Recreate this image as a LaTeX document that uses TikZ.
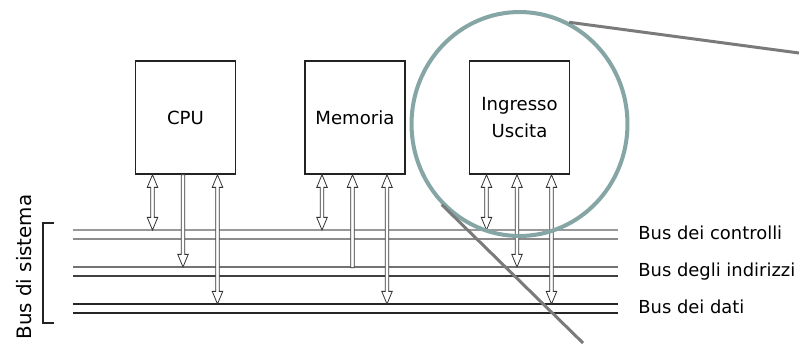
\documentclass[tikz,border=0pt]{standalone}
\usepackage{fontspec}
\setmainfont{DejaVu Sans}
\usepackage{tikz}
\usetikzlibrary{arrows.meta,calc,positioning,shapes.geometric}
\definecolor{lensteal}{HTML}{86A6A6}
\definecolor{zoomgray}{HTML}{7A7A7A}
\definecolor{boxline}{HTML}{222222}
% hollow bus arrow: #1 top, #2 bottom, #3/#4 = head at top/bottom (1 or 0)
\newcommand\busarrow[4]{%
  \pgfmathsetmacro\tw{1.0+2.0*#3}\pgfmathsetmacro\tl{7.2*#3}%
  \pgfmathsetmacro\bw{1.0+2.0*#4}\pgfmathsetmacro\bl{7.2*#4}%
  \filldraw[arr] let \p1=(#1), \p2=(#2) in
    (\x1,\y1) -- (\x1+\tw pt,\y1-\tl pt) -- (\x1+1pt,\y1-\tl pt) -- (\x1+1pt,\y2+\bl pt)
    -- (\x1+\bw pt,\y2+\bl pt) -- (\x1,\y2) -- (\x1-\bw pt,\y2+\bl pt) -- (\x1-1pt,\y2+\bl pt)
    -- (\x1-1pt,\y1-\tl pt) -- (\x1-\tw pt,\y1-\tl pt) -- cycle;}

\begin{document}
\begin{tikzpicture}[x=0.02cm,y=-0.02cm,
  unit/.style={draw=boxline,line width=0.85pt,minimum width=2cm,minimum height=2.26cm,align=center,font=\fontsize{10.3}{15.9}\selectfont},
  arr/.style={draw=black!80,fill=white,line width=0.45pt},
  buslabel/.style={anchor=base west,inner sep=0pt,font=\fontsize{10.2}{12}\selectfont}]
  \useasboundingbox (0,0) rectangle (799,343);
  % buses
  \coordinate (ctrl) at (73,230);
  \coordinate (addr) at (73,267);
  \coordinate (data) at (73,304);
  \foreach \y/\c in {230/black!40,239/black!45,267/black!55,276/black!75,304/black!85,313/black!85}
    \draw[line width=0.6pt,draw=\c] (73,\y) -- (618,\y);
  \node[buslabel] (lctrl) at (638,239) {Bus dei controlli};
  \node[buslabel] (laddr) at (638,276) {Bus degli indirizzi};
  \node[buslabel] (ldata) at (638,313) {Bus dei dati};
  \draw[line width=0.9pt,boxline] (54,223) -| (43,323) -- (54,323);
  \node[rotate=90,font=\fontsize{11.3}{13}\selectfont] (sys) at (24,267) {Bus di sistema};
  % units
  \node[unit] (cpu) at (185.5,117.5) {CPU};
  \node[unit] (mem) at (355,117.5) {Memoria};
  \node[unit] (io) at (519.5,117.5) {Ingresso\\Uscita};
  \foreach \u in {cpu,mem,io}{
    \coordinate (\u-l) at ([xshift=-0.66cm]\u.south);
    \coordinate (\u-m) at ([xshift=-0.05cm]\u.south);
    \coordinate (\u-r) at ([xshift=0.64cm]\u.south);
    \coordinate (\u-lb) at (\u-l |- ctrl);
    \coordinate (\u-mb) at (\u-m |- addr);
    \coordinate (\u-rb) at (\u-r |- data);
    \busarrow{\u-l}{\u-lb}{1}{1}
    \busarrow{\u-r}{\u-rb}{1}{1}
  }
  \busarrow{cpu-m}{cpu-mb}{0}{1}
  \coordinate (mem-j) at ([yshift=-0.4pt]mem-mb);
  \busarrow{mem-m}{mem-j}{1}{0}
  \busarrow{io-m}{io-mb}{1}{1}
  % lens
  \node[ellipse,draw=lensteal,line width=2.3pt,minimum width=4.32cm,minimum height=4.48cm,inner sep=0pt] (lens) at (519.5,124) {};
  \coordinate (zoomA) at (799,53);
  \coordinate (zoomB) at (583,343);
  \draw[zoomgray,line width=1.7pt] (lens.64) -- (zoomA);
  \draw[zoomgray,line width=1.7pt] (lens.226) -- (zoomB);
\end{tikzpicture}
\end{document}
